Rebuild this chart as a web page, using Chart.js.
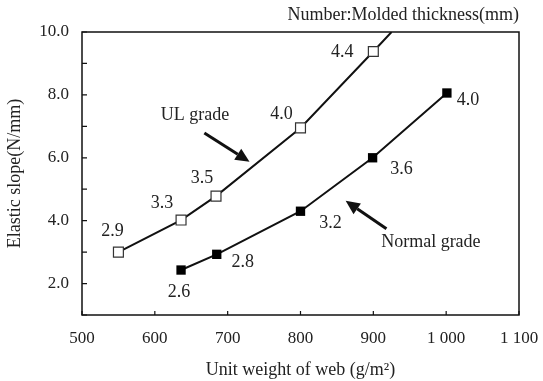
<!DOCTYPE html>
<html>
<head>
<meta charset="utf-8">
<script src="https://cdn.jsdelivr.net/npm/chart.js@4"></script>
<style>
  body { margin: 0; background: #fff; }
</style>
</head>
<body>
<canvas id="chart" width="543" height="381"></canvas>
<script>
// web weight (g/m2) and elastic slope (N/mm)
const ulWeight = [550, 636, 684, 800, 900, 925];
const ulSlope = [3.0, 4.02, 4.78, 6.95, 9.38, 10.0];
const ulThickness = ['2.9', '3.3', '3.5', '4.0', '4.4', ''];

const normalWeight = [636, 685, 800, 899, 1001];
const normalSlope = [2.43, 2.93, 4.3, 6.0, 8.06];
const normalThickness = ['2.6', '2.8', '3.2', '3.6', '4.0'];

const xTicks = [500, 600, 700, 800, 900, 1000, 1100];
const yTicks = [1, 2, 3, 4, 5, 6, 7, 8, 9, 10];

// label offsets (px) from each marker
const ulOffsets = [[-6, -21], [-19, -17], [-14, -18], [-19, -14], [-31, 1], [0, 0]];
const normalOffsets = [[-2, 22], [26, 8], [30, 12], [29, 11], [21, 7]];

const FONT = '"Liberation Serif", "DejaVu Serif", serif';

const toPts = (xs, ys) => xs.map((x, i) => ({ x: x, y: ys[i] }));

function arrow(ctx, x1, y1, x2, y2) {
    const a = Math.atan2(y2 - y1, x2 - x1);
    const len = 14, half = 6.5;
    const bx = x2 - len * Math.cos(a), by = y2 - len * Math.sin(a);
    ctx.beginPath();
    ctx.moveTo(x1, y1);
    ctx.lineTo(bx, by);
    ctx.lineWidth = 3;
    ctx.stroke();
    ctx.beginPath();
    ctx.moveTo(x2, y2);
    ctx.lineTo(bx + half * Math.sin(a), by - half * Math.cos(a));
    ctx.lineTo(bx - half * Math.sin(a), by + half * Math.cos(a));
    ctx.closePath();
    ctx.fill();
}

const extras = {
    id: 'extras',
    afterDraw(chart) {
        const ctx = chart.ctx;
        const a = chart.chartArea;
        const xs = chart.scales.x, ys = chart.scales.y;
        ctx.save();
        ctx.strokeStyle = '#111';
        ctx.fillStyle = '#111';
        // frame
        ctx.lineWidth = 1.5;
        ctx.strokeRect(a.left, a.top, a.right - a.left, a.bottom - a.top);
        // inward ticks
        ctx.lineWidth = 1.2;
        ctx.beginPath();
        yTicks.forEach(v => {
            const py = ys.getPixelForValue(v);
            ctx.moveTo(a.left, py);
            ctx.lineTo(a.left + 5, py);
        });
        xTicks.forEach(v => {
            const px = xs.getPixelForValue(v);
            ctx.moveTo(px, a.bottom);
            ctx.lineTo(px, a.bottom - 4);
        });
        ctx.stroke();

        // thickness labels
        ctx.font = '18px ' + FONT;
        ctx.fillStyle = '#222';
        ctx.textAlign = 'center';
        ctx.textBaseline = 'middle';
        const put = (meta, labels, offs) => {
            meta.data.forEach((p, i) => {
                if (!labels[i]) return;
                ctx.fillText(labels[i], p.x + offs[i][0], p.y + offs[i][1]);
            });
        };
        put(chart.getDatasetMeta(0), ulThickness, ulOffsets);
        put(chart.getDatasetMeta(1), normalThickness, normalOffsets);

        // grade labels and arrows (data coordinates)
        ctx.fillText('UL grade', xs.getPixelForValue(655), ys.getPixelForValue(7.34));
        ctx.fillText('Normal grade', xs.getPixelForValue(979), ys.getPixelForValue(3.32));
        ctx.fillStyle = '#111';
        arrow(ctx, xs.getPixelForValue(668), ys.getPixelForValue(6.79),
                   xs.getPixelForValue(730), ys.getPixelForValue(5.87));
        arrow(ctx, xs.getPixelForValue(918), ys.getPixelForValue(3.74),
                   xs.getPixelForValue(862), ys.getPixelForValue(4.63));

        // note on top
        ctx.fillStyle = '#222';
        ctx.textAlign = 'right';
        ctx.fillText('Number:Molded thickness(mm)', a.right, a.top - 17);
        ctx.restore();
    }
};

new Chart(document.getElementById('chart'), {
    type: 'scatter',
    data: {
        datasets: [{
            label: 'UL grade',
            data: toPts(ulWeight, ulSlope),
            showLine: true,
            borderColor: '#111',
            borderWidth: 2,
            pointStyle: 'rect',
            pointRadius: ulSlope.map((_, i) => i === ulSlope.length - 1 ? 0 : 7),
            pointBorderWidth: 1.2,
            pointBorderColor: '#333',
            pointBackgroundColor: '#fff'
        }, {
            label: 'Normal grade',
            data: toPts(normalWeight, normalSlope),
            showLine: true,
            borderColor: '#111',
            borderWidth: 2,
            pointStyle: 'rect',
            pointRadius: 6.6,
            pointBorderWidth: 0,
            pointBackgroundColor: '#000'
        }]
    },
    options: {
        responsive: false,
        animation: false,
        devicePixelRatio: 1,
        layout: { padding: { left: 0, right: 24, top: 32, bottom: 0 } },
        plugins: {
            legend: { display: false },
            tooltip: { enabled: false }
        },
        scales: {
            x: {
                type: 'linear',
                min: 500,
                max: 1100,
                afterFit: s => { s.height = 66; s.paddingLeft = 0; s.paddingRight = 0; },
                afterBuildTicks: s => { s.ticks = xTicks.map(v => ({ value: v })); },
                grid: { display: false, drawTicks: false },
                border: { display: false },
                ticks: {
                    padding: 13,
                    color: '#222',
                    font: { family: FONT, size: 17 },
                    callback: v => String(v).replace(/\B(?=(\d{3})+(?!\d))/g, ' ')
                },
                title: {
                    display: true,
                    text: 'Unit weight of web (g/m²)',
                    color: '#222',
                    font: { family: FONT, size: 18 },
                    padding: { top: 0, bottom: 0 }
                }
            },
            y: {
                min: 1,
                max: 10,
                afterFit: s => { s.width = 82; s.paddingTop = 0; s.paddingBottom = 0; },
                afterBuildTicks: s => { s.ticks = yTicks.map(v => ({ value: v })); },
                grid: { display: false, drawTicks: false },
                border: { display: false },
                ticks: {
                    padding: 13,
                    color: '#222',
                    font: { family: FONT, size: 17 },
                    callback: v => v % 2 === 0 ? v.toFixed(1) : ''
                },
                title: {
                    display: true,
                    text: 'Elastic slope(N/mm)',
                    color: '#222',
                    font: { family: FONT, size: 18 },
                    padding: { top: 4, bottom: 0 }
                }
            }
        }
    },
    plugins: [extras]
});
</script>
</body>
</html>
